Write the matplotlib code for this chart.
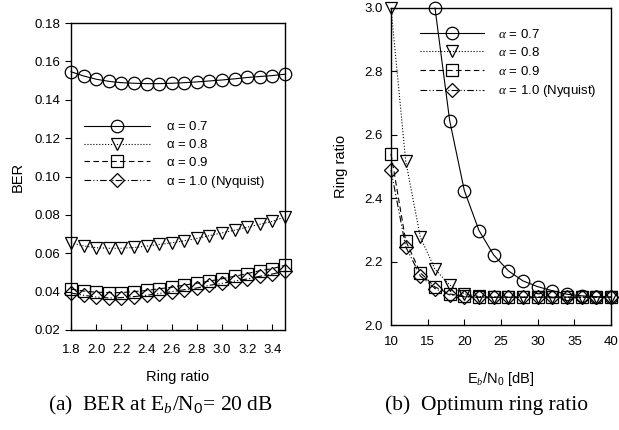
import matplotlib
matplotlib.use("Agg")
import matplotlib.pyplot as plt
import numpy as np

# ---- data (a) ----
ring_ratio = [1.8, 1.9, 2.0, 2.1, 2.2, 2.3, 2.4, 2.5, 2.6, 2.7, 2.8, 2.9, 3.0, 3.1, 3.2, 3.3, 3.4, 3.5]
ber_a07 = [0.1546, 0.1524, 0.1507, 0.1496, 0.1489, 0.1486, 0.1484, 0.1484, 0.1486, 0.1489,
           0.1493, 0.1498, 0.1503, 0.1509, 0.1516, 0.1521, 0.1526, 0.1533]
ber_a08 = [0.0655, 0.0638, 0.0629, 0.0626, 0.0626, 0.0630, 0.0637, 0.0646, 0.0654, 0.0665,
           0.0677, 0.0692, 0.0706, 0.0720, 0.0736, 0.0751, 0.0766, 0.0790]
ber_a09 = [0.0413, 0.0403, 0.0397, 0.0395, 0.0395, 0.0400, 0.0406, 0.0415, 0.0423, 0.0434,
           0.0444, 0.0455, 0.0467, 0.0480, 0.0494, 0.0509, 0.0520, 0.0537]
ber_a10 = [0.0393, 0.0381, 0.0372, 0.0367, 0.0369, 0.0374, 0.0381, 0.0390, 0.0400, 0.0410,
           0.0419, 0.0433, 0.0443, 0.0455, 0.0466, 0.0480, 0.0492, 0.0506]

# ---- data (b) ----
ebn0 = [10, 12, 14, 16, 18, 20, 22, 24, 26, 28, 30, 32, 34, 36, 38, 40]
ebn0_a07 = [16, 18, 20, 22, 24, 26, 28, 30, 32, 34, 36, 38, 40]
opt_a07 = [3.0, 2.645, 2.424, 2.298, 2.221, 2.171, 2.139, 2.121, 2.108, 2.097, 2.092, 2.089, 2.088]
opt_a08 = [3.0, 2.518, 2.277, 2.176, 2.126, 2.098, 2.090, 2.088, 2.088, 2.088, 2.088, 2.088, 2.088, 2.088, 2.088, 2.088]
opt_a09 = [2.540, 2.266, 2.165, 2.120, 2.098, 2.090, 2.088, 2.088, 2.088, 2.088, 2.088, 2.088, 2.088, 2.088, 2.088, 2.088]
opt_a10 = [2.489, 2.247, 2.155, 2.115, 2.095, 2.089, 2.087, 2.087, 2.087, 2.087, 2.087, 2.087, 2.087, 2.087, 2.087, 2.087]

labels_a = [r"$\mathrm{\alpha}$ = 0.7", r"$\mathrm{\alpha}$ = 0.8", r"$\mathrm{\alpha}$ = 0.9", r"$\mathrm{\alpha}$ = 1.0 (Nyquist)"]
labels_b = [r"$\alpha$ = 0.7", r"$\alpha$ = 0.8", r"$\alpha$ = 0.9", r"$\alpha$ = 1.0 (Nyquist)"]

plt.rcParams['font.family'] = ['Liberation Sans', 'DejaVu Sans']
plt.rcParams['mathtext.fontset'] = 'custom'
plt.rcParams['mathtext.rm'] = 'Liberation Sans'
plt.rcParams['mathtext.it'] = 'Liberation Serif:italic'

fig = plt.figure(figsize=(6.19, 4.30), dpi=100)
W, H = 619, 430
def ax_rect(x0, y0, x1, y1):
    return [x0 / W, 1 - y1 / H, (x1 - x0) / W, (y1 - y0) / H]

styles = [
    dict(marker='o', linestyle='-'),
    dict(marker='v', linestyle=':'),
    dict(marker='s', linestyle=(0, (5, 3))),
    dict(marker='D', linestyle=(0, (6, 2, 1, 2, 1, 2))),
]
msizes = [9, 9, 8, 7.5]
common = dict(color='black', markerfacecolor='none', markeredgecolor='black',
              linewidth=0.8, markeredgewidth=0.9, clip_on=False)

# ---- (a) ----
ax1 = fig.add_axes(ax_rect(71, 23, 285, 330))
for ys, st, ms, lb in zip([ber_a07, ber_a08, ber_a09, ber_a10], styles, msizes, labels_a):
    ax1.plot(ring_ratio, ys, markersize=ms, label=lb, **st, **common)
ax1.set_xlim(1.8, 3.5)
ax1.set_ylim(0.02, 0.18)
ax1.set_xticks([1.8, 2.0, 2.2, 2.4, 2.6, 2.8, 3.0, 3.2, 3.4])
ax1.set_xticklabels(["1.8", "2.0", "2.2", "2.4", "2.6", "2.8", "3.0", "3.2", "3.4"])
ax1.set_yticks([0.02, 0.04, 0.06, 0.08, 0.10, 0.12, 0.14, 0.16, 0.18])
ax1.set_yticklabels(["0.02", "0.04", "0.06", "0.08", "0.10", "0.12", "0.14", "0.16", "0.18"])
ax1.tick_params(axis='x', direction='in', length=4, labelsize=9.5, pad=10)
ax1.tick_params(axis='y', direction='out', length=4, labelsize=9.5)
ax1.set_xlabel("Ring ratio", fontsize=10.5, labelpad=10)
ax1.set_ylabel("BER", fontsize=10.5, labelpad=7)
leg1 = ax1.legend(loc='upper left', bbox_to_anchor=(0.035, 0.70), frameon=False, fontsize=9.5,
                  handlelength=5.0, handletextpad=1.2, labelspacing=0.36, borderaxespad=0)
for sp in ax1.spines.values():
    sp.set_linewidth(1.0)

# ---- (b) ----
ax2 = fig.add_axes(ax_rect(391, 8, 611, 325))
ax2.plot(ebn0_a07, opt_a07, markersize=msizes[0], label=labels_b[0], **styles[0], **common)
for ys, st, ms, lb in zip([opt_a08, opt_a09, opt_a10], styles[1:], msizes[1:], labels_b[1:]):
    ax2.plot(ebn0, ys, markersize=ms, label=lb, **st, **common)
ax2.set_xlim(10, 40)
ax2.set_ylim(2.0, 3.0)
ax2.set_xticks([10, 15, 20, 25, 30, 35, 40])
ax2.set_yticks([2.0, 2.2, 2.4, 2.6, 2.8, 3.0])
ax2.set_yticklabels(["2.0", "2.2", "2.4", "2.6", "2.8", "3.0"])
ax2.tick_params(axis='both', direction='in', length=4, labelsize=9.5)
ax2.tick_params(axis='x', pad=8)
ax2.tick_params(axis='y', pad=6)
ax2.set_xlabel(r"E$_b$/N$_0$ [dB]", fontsize=10.5, labelpad=16)
ax2.set_ylabel("Ring ratio", fontsize=10.5, labelpad=12)
leg2 = ax2.legend(loc='upper left', bbox_to_anchor=(0.11, 0.955), frameon=False, fontsize=9.5,
                  handlelength=4.8, handletextpad=1.1, labelspacing=0.42, borderaxespad=0)
for sp in ax2.spines.values():
    sp.set_linewidth(1.0)

# captions
fig.text(160 / W, 1 - 405 / H, r"(a)  BER at E$_b$/N$_0$= 20 dB", ha='center', va='center',
         fontsize=15.5, family='Liberation Serif')
fig.text(487 / W, 1 - 405 / H, "(b)  Optimum ring ratio", ha='center', va='center',
         fontsize=15.5, family='Liberation Serif')

fig.savefig("out.png", dpi=100)
